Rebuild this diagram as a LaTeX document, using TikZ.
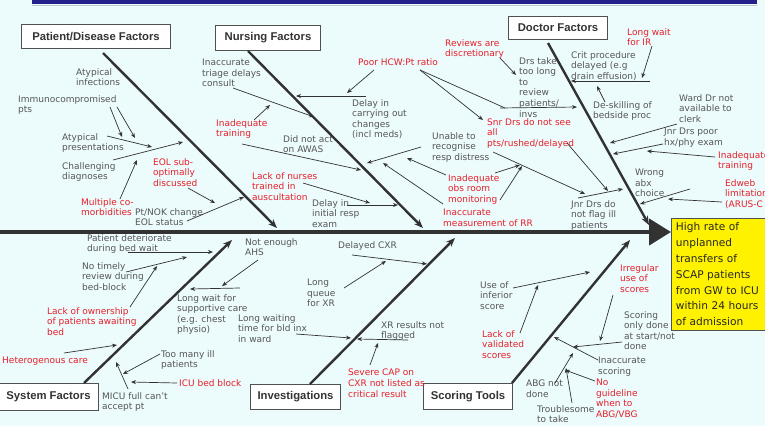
\documentclass[tikz,border=0pt]{standalone}
\usepackage{fontspec}
\setmainfont{DejaVu Sans}
\newfontfamily\headfont{Liberation Sans}
\usetikzlibrary{arrows.meta}
\definecolor{bgcyan}{RGB}{236,251,252}
\definecolor{barblue}{RGB}{36,32,140}
\definecolor{txtgray}{RGB}{85,85,85}
\definecolor{txtred}{RGB}{232,30,40}
\definecolor{linegray}{RGB}{50,50,50}
\definecolor{boxgray}{RGB}{80,80,80}
\begin{document}
\begin{tikzpicture}[x=1pt,y=-1pt,>={Stealth[length=5pt,width=4pt]},
	cause/.style={anchor=north west,inner sep=0pt,align=left,text=txtgray,font=\fontsize{9}{10.6}\selectfont},
	rcause/.style={cause,text=txtred},
	cat/.style={draw=boxgray,line width=1pt,fill=white,anchor=north west,inner sep=0pt,text=black!80,font=\headfont\bfseries\fontsize{11.3}{13}\selectfont},
	sub/.style={->,linegray,line width=0.7pt},
	bone/.style={-{Stealth[length=9pt,width=7pt]},linegray,line width=2.4pt},
	spine/.style={-{Triangle[length=22pt,width=26pt]},linegray,line width=4.5pt}]
	\useasboundingbox (0,0) rectangle (765,426);
	\fill[bgcyan] (0,0) rectangle (765,426);
	\fill[barblue] (32,-2) rectangle (757,4);
	\draw[gray!45,line width=1pt] (32,5) -- (757,5);
	% effect and spine
	\node[draw=boxgray,line width=0.8pt,fill=yellow,anchor=north west,minimum height=112pt,
		text width=86pt,inner xsep=4.5pt,align=left,text=black!85,font=\fontsize{10.6}{15.8}\selectfont] (effect) at (671,218)
		{High rate of\\unplanned\\transfers of\\SCAP patients\\from GW to ICU\\within 24 hours\\of admission};
	\coordinate (spS) at (0,232);
	\draw[spine] (spS) -- (spS -| effect.west);
	% category boxes
	\node[cat,minimum width=149pt,minimum height=24pt] (pdbox) at (21,24) {Patient/Disease Factors};
	\node[cat,minimum width=105pt,minimum height=25pt] (nubox) at (215,25) {Nursing Factors};
	\node[cat,minimum width=99pt,minimum height=23pt] (drbox) at (508,16) {Doctor Factors};
	\node[cat,minimum width=100pt,minimum height=27pt] (sybox) at (-2,383) {System Factors};
	\node[cat,minimum width=90pt,minimum height=25pt] (ivbox) at (250,384) {Investigations};
	\node[cat,minimum width=89pt,minimum height=26pt] (scbox) at (423,383) {Scoring Tools};
	% main bones
	\path (103,53) coordinate (pdS) (277,228) coordinate (pdE)
		(248,51) coordinate (nuS) (423,228) coordinate (nuE)
		(548,43) coordinate (drS) (649,225) coordinate (drE)
		(84,383) coordinate (syS) (232,240) coordinate (syE)
		(310,384) coordinate (ivS) (455,238) coordinate (ivE)
		(512,383) coordinate (scS) (630,240) coordinate (scE);
	\foreach \b in {pd,nu,dr,sy,iv,sc}
		\draw[bone] (\b S) -- (\b E);

	% patient / disease factors
	\node[cause] (infect) at (76,68) {Atypical\\infections};
	\node[cause] (immuno) at (18,95) {Immunocompromised\\pts};
	\node[cause] (presen) at (62,133) {Atypical\\presentations};
	\node[cause] (challenge) at (62,162) {Challenging\\diagnoses};
	\node[rcause] (multi) at (81,198) {Multiple co-\\morbidities};
	\node[rcause] (eolsub) at (153,158) {EOL sub-\\optimally\\discussed};
	\node[cause] (ptnok) at (135,208) {Pt/NOK change\\EOL status};
	\path (117,107) coordinate (pd1a) (135,138) coordinate (pd1b)
		(110,107) coordinate (pd2a) (122,137) coordinate (pd2b)
		(107,136) coordinate (pd3a) (152,147) coordinate (pd3b)
		(113,160) coordinate (pd4a) (183,142) coordinate (pd4b)
		(120,199) coordinate (pd5a) (137,160) coordinate (pd5b)
		(188,188) coordinate (pd6a) (215,203) coordinate (pd6b)
		(187,221) coordinate (pd7a) (244,197) coordinate (pd7b);
	\foreach \i in {1,...,7}
		\draw[sub] (pd\i a) -- (pd\i b);

	% nursing factors
	\node[cause] (triage) at (202,59) {Inaccurate\\triage delays\\consult};
	\node[rcause] (ntrain) at (216,119) {Inadequate\\training};
	\node[cause] (awas) at (283,135) {Did not act\\on AWAS};
	\node[cause] (carry) at (352,99) {Delay in\\carrying out\\changes\\(incl meds)};
	\node[rcause] (hcw) at (358,58) {Poor HCW:Pt ratio};
	\node[cause] (unable) at (432,132) {Unable to\\recognise\\resp distress};
	\node[rcause] (obsroom) at (448,174) {Inadequate\\obs room\\monitoring};
	\node[rcause] (measrr) at (443,209) {Inaccurate\\measurement of RR};
	\node[rcause] (auscult) at (252,172) {Lack of nurses\\trained in\\auscultation};
	\node[cause] (initresp) at (312,199) {Delay in\\initial resp\\exam};
	\path (233,88) coordinate (nu1a) (314,117) coordinate (nu1b)
		(254,120) coordinate (nu2a) (270,105) coordinate (nu2b)
		(242,144) coordinate (nu3a) (361,170) coordinate (nu3b)
		(366,96) coordinate (nu4a) (296,96) coordinate (nu4b)
		(374,70) coordinate (nu5a) (347,93) coordinate (nu5b)
		(420,70) coordinate (nu6a) (483,120) coordinate (nu6b)
		(421,147) coordinate (nu7a) (367,163) coordinate (nu7b)
		(446,175) coordinate (nu8a) (407,158) coordinate (nu8b)
		(443,204) coordinate (nu9a) (383,163) coordinate (nu9b)
		(303,183) coordinate (nu10a) (370,203) coordinate (nu10b)
		(347,205) coordinate (nu11a) (398,205) coordinate (nu11b)
		(505,108) coordinate (nu0b);
	\foreach \i in {1,...,11}
		\draw[sub] (nu\i a) -- (nu\i b);
	\draw[linegray,line width=0.7pt] (nu6a) -- (nu0b);

	% doctor factors
	\node[rcause] (reviews) at (445,39) {Reviews are\\discretionary};
	\node[cause] (drstake) at (519,57) {Drs take\\too long\\to\\review\\patients/\\invs};
	\node[rcause] (snrdrs) at (487,118) {Snr Drs do not see\\all\\pts/rushed/delayed};
	\node[cause] (crit) at (571,51) {Crit procedure\\delayed (e.g\\drain effusion)};
	\node[rcause] (longir) at (627,28) {Long wait\\for IR};
	\node[cause] (deskill) at (593,101) {De-skilling of\\bedside proc};
	\node[cause] (warddr) at (679,94) {Ward Dr not\\available to\\clerk};
	\node[cause] (jnrpoor) at (664,128) {Jnr Drs poor\\hx/phy exam};
	\node[rcause] (dtrain) at (718,151) {Inadequate\\training};
	\node[cause] (wrongabx) at (635,169) {Wrong\\abx\\choice};
	\node[rcause] (edweb) at (725,179) {Edweb\\limitation\\(ARUS-C};
	\node[cause] (jnrflag) at (571,200) {Jnr Drs do\\not flag ill\\patients};
	\path (500,58) coordinate (dr1a) (516,75) coordinate (dr1b)
		(500,108) coordinate (dr2a) (577,107) coordinate (dr2b)
		(650,81) coordinate (dr3a) (571,81) coordinate (dr3b)
		(652,46) coordinate (dr4a) (642,78) coordinate (dr4b)
		(605,102) coordinate (dr5a) (597,86) coordinate (dr5b)
		(677,124) coordinate (dr6a) (610,143) coordinate (dr6b)
		(663,144) coordinate (dr7a) (613,154) coordinate (dr7b)
		(715,157) coordinate (dr8a) (647,151) coordinate (dr8b)
		(690,189) coordinate (dr9a) (640,204) coordinate (dr9b)
		(722,202) coordinate (dr10a) (668,199) coordinate (dr10b)
		(578,198) coordinate (dr11a) (623,189) coordinate (dr11b)
		(493,152) coordinate (dr12a) (585,194) coordinate (dr12b)
		(567,143) coordinate (dr13a) (608,191) coordinate (dr13b)
		(495,173) coordinate (dr14a) (520,165) coordinate (dr14b)
		(500,200) coordinate (dr15a) (522,166) coordinate (dr15b);
	\foreach \i in {1,...,15}
		\draw[sub] (dr\i a) -- (dr\i b);

	% system factors
	\node[cause] (deter) at (87,234) {Patient deteriorate\\during bed wait};
	\node[cause] (timely) at (82,262) {No timely\\review during\\bed-block};
	\node[rcause] (owner) at (47,307) {Lack of ownership\\of patients awaiting\\bed};
	\node[rcause] (hetero) at (2,357) {Heterogenous care};
	\node[cause] (toomany) at (161,350) {Too many ill\\patients};
	\node[rcause] (icublock) at (179,379) {ICU bed block};
	\node[cause] (micu) at (102,392) {MICU full can't\\accept pt};
	\node[cause] (suppcare) at (177,294) {Long wait for\\supportive care\\(e.g. chest\\physio)};
	\node[cause] (ahs) at (245,238) {Not enough\\AHS};
	\path (128,252) coordinate (sy1a) (213,252) coordinate (sy1b)
		(126,272) coordinate (sy2a) (187,257) coordinate (sy2b)
		(130,307) coordinate (sy3a) (157,266) coordinate (sy3b)
		(64,353) coordinate (sy4a) (117,345) coordinate (sy4b)
		(160,354) coordinate (sy5a) (123,374) coordinate (sy5b)
		(177,383) coordinate (sy6a) (131,382) coordinate (sy6b)
		(128,389) coordinate (sy7a) (116,362) coordinate (sy7b)
		(240,288) coordinate (sy8a) (190,289) coordinate (sy8b)
		(258,260) coordinate (sy9a) (222,286) coordinate (sy9b);
	\foreach \i in {1,...,9}
		\draw[sub] (sy\i a) -- (sy\i b);

	% investigations
	\node[cause] (delcxr) at (338,241) {Delayed CXR};
	\node[cause] (queue) at (307,279) {Long\\queue\\for XR};
	\node[cause] (bldinx) at (238,314) {Long waiting\\time for bld inx\\in ward};
	\node[cause] (xrflag) at (381,321) {XR results not\\flagged};
	\node[rcause] (severe) at (348,369) {Severe CAP on\\CXR not listed as\\critical result};
	\path (352,255) coordinate (iv1a) (427,264) coordinate (iv1b)
		(344,288) coordinate (iv2a) (386,261) coordinate (iv2b)
		(296,334) coordinate (iv3a) (351,338) coordinate (iv3b)
		(408,340) coordinate (iv4a) (357,339) coordinate (iv4b)
		(370,365) coordinate (iv5a) (378,343) coordinate (iv5b);
	\foreach \i in {1,...,5}
		\draw[sub] (iv\i a) -- (iv\i b);

	% scoring tools
	\node[cause] (inferior) at (480,281) {Use of\\inferior\\score};
	\node[rcause] (validated) at (482,330) {Lack of\\validated\\scores};
	\node[rcause] (irreg) at (620,264) {Irregular\\use of\\scores};
	\node[cause] (onlydone) at (624,311) {Scoring\\only done\\at start/not\\done};
	\node[cause] (inaccscore) at (598,357) {Inaccurate\\scoring};
	\node[rcause] (guideline) at (596,379) {No\\guideline\\when to\\ABG/VBG};
	\node[cause] (abgnot) at (526,380) {ABG not\\done};
	\node[cause] (trouble) at (537,405) {Troublesome\\to take};
	\path (513,288) coordinate (sc1a) (590,272) coordinate (sc1b)
		(520,333) coordinate (sc2a) (538,285) coordinate (sc2b)
		(613,295) coordinate (sc3a) (600,341) coordinate (sc3b)
		(622,342) coordinate (sc4a) (573,347) coordinate (sc4b)
		(598,360) coordinate (sc5a) (554,337) coordinate (sc5b)
		(595,381) coordinate (sc6a) (565,370) coordinate (sc6b)
		(555,383) coordinate (sc7a) (573,353) coordinate (sc7b)
		(572,403) coordinate (sc8a) (566,368) coordinate (sc8b);
	\foreach \i in {1,...,8}
		\draw[sub] (sc\i a) -- (sc\i b);
\end{tikzpicture}
\end{document}
